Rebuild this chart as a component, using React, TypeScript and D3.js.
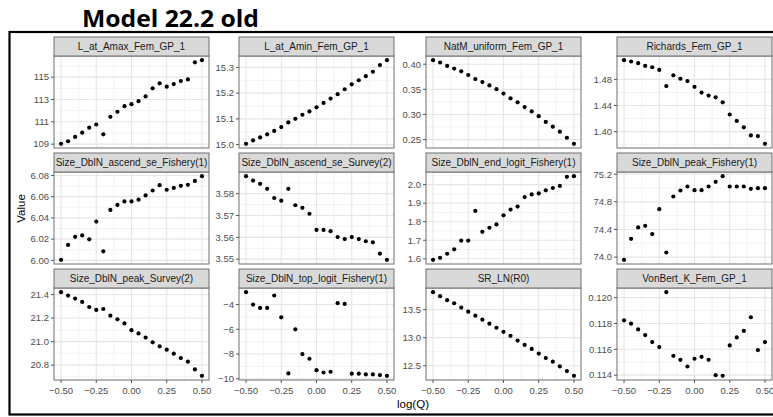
import React from 'react';
import * as d3 from 'd3';

// x categories: log(Q)
const logQ = [-0.5, -0.45, -0.4, -0.35, -0.3, -0.25, -0.2, -0.15, -0.1, -0.05, 0, 0.05, 0.1, 0.15, 0.2, 0.25, 0.3, 0.35, 0.4, 0.45, 0.5];
const xTicks = [-0.5, -0.25, 0, 0.25, 0.5];

const panelNames = [
  'L_at_Amax_Fem_GP_1', 'L_at_Amin_Fem_GP_1', 'NatM_uniform_Fem_GP_1', 'Richards_Fem_GP_1',
  'Size_DblN_ascend_se_Fishery(1)', 'Size_DblN_ascend_se_Survey(2)', 'Size_DblN_end_logit_Fishery(1)', 'Size_DblN_peak_Fishery(1)',
  'Size_DblN_peak_Survey(2)', 'Size_DblN_top_logit_Fishery(1)', 'SR_LN(R0)', 'VonBert_K_Fem_GP_1',
];

const lAtAmax = [109.03, 109.26, 109.65, 110.03, 110.48, 110.76, 109.88, 111.45, 111.9, 112.4, 112.58, 112.85, 113.27, 114.0, 114.45, 114.15, 114.38, 114.65, 114.8, 116.33, 116.52];
const lAtAmin = [15.003, 15.016, 15.028, 15.040, 15.053, 15.068, 15.086, 15.100, 15.116, 15.129, 15.145, 15.162, 15.179, 15.196, 15.215, 15.234, 15.250, 15.266, 15.283, 15.309, 15.328];
const natM = [0.408, 0.4034, 0.3966, 0.3913, 0.3859, 0.3785, 0.3705, 0.3644, 0.3577, 0.3503, 0.3416, 0.3322, 0.3242, 0.3148, 0.306, 0.2966, 0.2852, 0.2758, 0.2658, 0.2537, 0.2416];
const richards = [1.5094, 1.5074, 1.5048, 1.5006, 1.4986, 1.4945, 1.4697, 1.4862, 1.481, 1.4774, 1.4686, 1.4599, 1.4552, 1.4526, 1.4449, 1.4263, 1.4165, 1.4067, 1.3943, 1.3933, 1.3814];
const ascendFishery = [6.0005, 6.0145, 6.0222, 6.0235, 6.0198, 6.0365, 6.0085, 6.0475, 6.0522, 6.0555, 6.0555, 6.0572, 6.0612, 6.0658, 6.0708, 6.0665, 6.0682, 6.0702, 6.0712, 6.0748, 6.0793];
const ascendSurvey = [3.588, 3.586, 3.5845, 3.5822, 3.578, 3.5768, 3.5822, 3.5747, 3.5735, 3.5708, 3.5634, 3.5634, 3.5628, 3.5601, 3.5592, 3.5601, 3.5592, 3.5582, 3.5577, 3.5525, 3.5497];
const endLogit = [1.5945, 1.6055, 1.6273, 1.6509, 1.6982, 1.6982, 1.8582, 1.7455, 1.7673, 1.7855, 1.8345, 1.8655, 1.8818, 1.9327, 1.9473, 1.9527, 1.9691, 1.9818, 1.9927, 2.0418, 2.0455];
const peakFishery = [73.961, 74.265, 74.429, 74.453, 74.333, 74.694, 74.067, 74.877, 74.964, 75.022, 74.969, 74.969, 75.022, 75.089, 75.171, 75.022, 75.022, 75.022, 74.988, 74.998, 74.998];
const peakSurvey = [21.42, 21.391, 21.366, 21.337, 21.294, 21.269, 21.277, 21.22, 21.189, 21.154, 21.097, 21.069, 21.034, 20.994, 20.96, 20.931, 20.897, 20.86, 20.829, 20.763, 20.709];
const topLogit = [-3.0, -4.0, -4.27, -4.27, -3.27, -5.03, -9.57, -6.0, -8.0, -8.38, -9.3, -9.49, -9.43, -3.89, -3.95, -9.59, -9.59, -9.65, -9.65, -9.7, -9.76];
const srLnR0 = [13.811, 13.74, 13.668, 13.614, 13.536, 13.464, 13.392, 13.32, 13.249, 13.177, 13.105, 13.033, 12.949, 12.871, 12.799, 12.716, 12.638, 12.572, 12.488, 12.404, 12.32];
const vonBertK = [0.11824, 0.11798, 0.11754, 0.11710, 0.11656, 0.11617, 0.12042, 0.1155, 0.11519, 0.11467, 0.11527, 0.11542, 0.11519, 0.114, 0.11395, 0.1163, 0.11692, 0.11742, 0.11848, 0.11594, 0.11656];

const panelValues = [lAtAmax, lAtAmin, natM, richards, ascendFishery, ascendSurvey, endLogit, peakFishery, peakSurvey, topLogit, srLnR0, vonBertK];

const yTicks = [
  [109, 111, 113, 115],
  [15.0, 15.1, 15.2, 15.3],
  [0.25, 0.30, 0.35, 0.40],
  [1.40, 1.44, 1.48],
  [6.00, 6.02, 6.04, 6.06, 6.08],
  [3.55, 3.56, 3.57, 3.58],
  [1.6, 1.7, 1.8, 1.9, 2.0],
  [74.0, 74.4, 74.8, 75.2],
  [20.8, 21.0, 21.2, 21.4],
  [-10, -8, -6, -4],
  [12.5, 13.0, 13.5],
  [0.114, 0.116, 0.118, 0.120],
];
const yTickFormat = ['.0f', '.1f', '.2f', '.2f', '.2f', '.2f', '.1f', '.1f', '.1f', '.0f', '.1f', '.3f'];

// layout
const colLeft = [54, 239, 426, 617];
const panelW = 155;
const rowTop = [37, 153, 269];
const stripH = 19;
const panelH = 92;

const FONT = '"Liberation Sans", Arial, sans-serif';

function padded(ext: [number, number]): [number, number] {
  const pad = (ext[1] - ext[0]) * 0.05;
  return [ext[0] - pad, ext[1] + pad];
}

function minorBreaks(major: number[], domain: [number, number]) {
  const out: number[] = [];
  const step = major[1] - major[0];
  const all = [major[0] - step, ...major, major[major.length - 1] + step];
  for (let i = 0; i < all.length - 1; i++) {
    const m = (all[i] + all[i + 1]) / 2;
    if (m >= domain[0] && m <= domain[1]) out.push(m);
  }
  return out;
}

function Panel({ i }: { i: number }) {
  const row = Math.floor(i / 4);
  const col = i % 4;
  const left = colLeft[col];
  const top = rowTop[row] + stripH;
  const bottom = top + panelH;
  const xDom = padded(d3.extent(logQ) as [number, number]);
  const x = d3.scaleLinear().domain(xDom).range([left, left + panelW]);
  const yDom = padded(d3.extent(panelValues[i]) as [number, number]);
  const y = d3.scaleLinear().domain(yDom).range([bottom, top]);
  const fmt = d3.format(yTickFormat[i]);
  const xMinor = minorBreaks(xTicks, xDom);
  const yMinor = minorBreaks(yTicks[i], yDom);
  const isBottom = row === 2;

  return (
    <g>
      <rect x={left} y={top} width={panelW} height={panelH} fill="white" />
      {xMinor.map(v => (
        <line key={'xm' + v} x1={x(v)} x2={x(v)} y1={top} y2={bottom} stroke="#ebebeb" strokeWidth={0.6} />
      ))}
      {yMinor.map(v => (
        <line key={'ym' + v} x1={left} x2={left + panelW} y1={y(v)} y2={y(v)} stroke="#ebebeb" strokeWidth={0.6} />
      ))}
      {xTicks.map(v => (
        <line key={'xg' + v} x1={x(v)} x2={x(v)} y1={top} y2={bottom} stroke="#e6e6e6" strokeWidth={1.1} />
      ))}
      {yTicks[i].map(v => (
        <line key={'yg' + v} x1={left} x2={left + panelW} y1={y(v)} y2={y(v)} stroke="#e6e6e6" strokeWidth={1.1} />
      ))}
      {logQ.map((q, k) => (
        <circle key={k} cx={x(q)} cy={y(panelValues[i][k])} r={2.1} fill="black" />
      ))}
      <rect x={left} y={top} width={panelW} height={panelH} fill="none" stroke="#6e6e6e" strokeWidth={1} />
      {/* strip */}
      <rect x={left} y={rowTop[row]} width={panelW} height={stripH} fill="#d9d9d9" stroke="#6e6e6e" strokeWidth={1} />
      <text x={left + panelW / 2} y={rowTop[row] + stripH / 2} dy="0.35em" textAnchor="middle"
        fontFamily={FONT} fontSize={10} fill="#1a1a1a">{panelNames[i]}</text>
      {/* y axis */}
      {yTicks[i].map(v => (
        <g key={'yt' + v}>
          <line x1={left - 3} x2={left} y1={y(v)} y2={y(v)} stroke="#555" strokeWidth={1} />
          <text x={left - 5} y={y(v)} dy="0.35em" textAnchor="end" fontFamily={FONT} fontSize={9.5} fill="#4d4d4d">{fmt(v)}</text>
        </g>
      ))}
      {/* x axis */}
      {isBottom && xTicks.map(v => (
        <g key={'xt' + v}>
          <line x1={x(v)} x2={x(v)} y1={bottom} y2={bottom + 3} stroke="#555" strokeWidth={1} />
          <text x={x(v)} y={bottom + 13.5} textAnchor="middle" fontFamily={FONT} fontSize={9.5} fill="#4d4d4d">{d3.format('.2f')(v)}</text>
        </g>
      ))}
    </g>
  );
}

export default function App() {
  const W = 773;
  const H = 417;
  const panelIdx = d3.range(panelNames.length);
  const xCenter = (colLeft[0] + colLeft[3] + panelW) / 2;
  const yCenter = (rowTop[0] + rowTop[2] + stripH + panelH) / 2;
  return (
    <div style={{ position: 'absolute', left: 0, top: 0, width: W, height: H, background: 'white' }}>
      <svg width={W} height={H} style={{ display: 'block' }}>
        <rect x={0} y={0} width={W} height={H} fill="white" />
        <text x={82} y={27} fontFamily='"Open Sans", sans-serif' fontWeight={700} fontSize={24} fill="black"
          textLength={177} lengthAdjust="spacingAndGlyphs">Model 22.2 old</text>
        <rect x={9.5} y={32} width={780} height={382.5} fill="white" stroke="black" strokeWidth={2.2} />
        {panelIdx.map(i => <Panel key={i} i={i} />)}
        <text x={xCenter} y={408} textAnchor="middle" fontFamily={FONT} fontSize={11.5} fill="black">log(Q)</text>
        <text transform={`translate(25,${yCenter}) rotate(-90)`} textAnchor="middle" fontFamily={FONT} fontSize={11.5} fill="black">Value</text>
      </svg>
    </div>
  );
}
